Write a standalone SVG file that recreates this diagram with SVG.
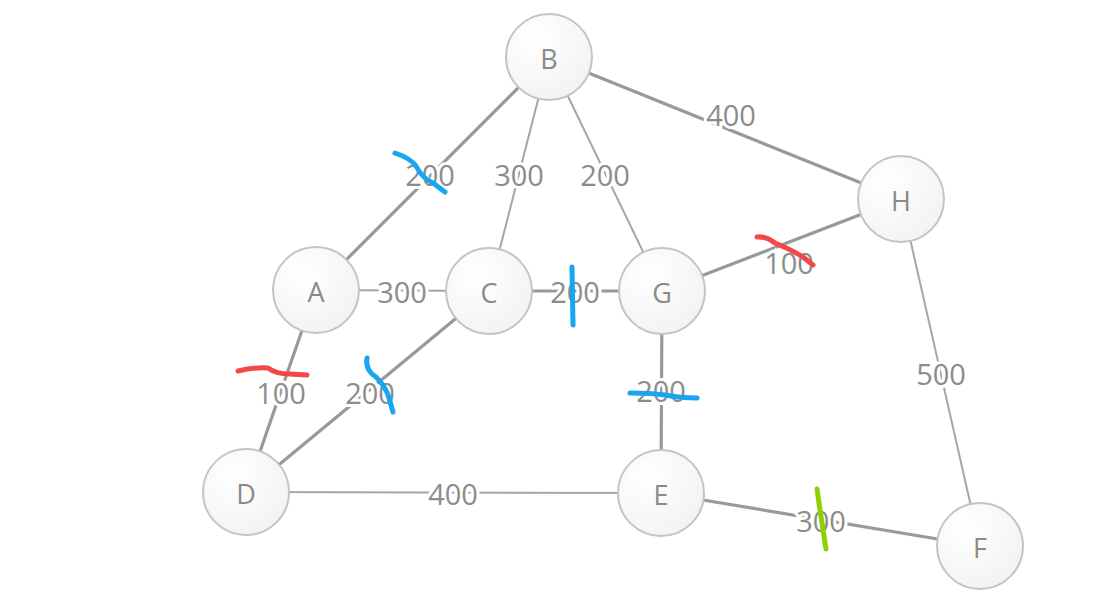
<svg xmlns="http://www.w3.org/2000/svg" width="1095" height="599" viewBox="0 0 1095 599">
<defs>
<radialGradient id="ng" cx="0.35" cy="0.3" r="0.8">
<stop offset="0" stop-color="#ffffff"/>
<stop offset="1" stop-color="#f2f2f2"/>
</radialGradient>
<style>
.thick{stroke:#999;stroke-width:3.2;fill:none}
.thin{stroke:#a6a6a6;stroke-width:2;fill:none}
.lbl{font-family:"Open Sans","Noto Sans","DejaVu Sans",sans-serif;font-size:29px;fill:#8c8c8c;text-anchor:middle;dominant-baseline:central;stroke:#fff;stroke-width:6;paint-order:stroke fill}
.node circle{fill:url(#ng);stroke:#c4c4c4;stroke-width:2}
.node text{font-family:"Open Sans","Noto Sans","DejaVu Sans",sans-serif;font-size:27px;fill:#8a8a8a;text-anchor:middle;dominant-baseline:central}
.mark{fill:none;stroke-width:5;stroke-linecap:round;stroke-linejoin:round}
</style>
</defs>
<rect width="1095" height="599" fill="#fff"/>
<g id="connectors">
<line class="thick" x1="549" y1="57" x2="316" y2="290"/>
<line class="thin" x1="549" y1="57" x2="489" y2="291"/>
<line class="thin" x1="549" y1="57" x2="662" y2="291"/>
<line class="thick" x1="549" y1="57" x2="901" y2="199"/>
<line class="thin" x1="316" y1="290" x2="489" y2="291"/>
<line class="thick" x1="489" y1="291" x2="662" y2="291"/>
<line class="thick" x1="662" y1="291" x2="901" y2="199"/>
<line class="thick" x1="316" y1="290" x2="246" y2="492"/>
<line class="thick" x1="489" y1="291" x2="246" y2="492"/>
<line class="thick" x1="662" y1="291" x2="661" y2="493"/>
<line class="thin" x1="901" y1="199" x2="980" y2="546"/>
<line class="thin" x1="246" y1="492" x2="661" y2="493"/>
<line class="thick" x1="661" y1="493" x2="980" y2="546"/>
<text class="lbl" x="430" y="174">200</text>
<text class="lbl" x="519" y="174">300</text>
<text class="lbl" x="605" y="174">200</text>
<text class="lbl" x="731" y="114">400</text>
<text class="lbl" x="402" y="291">300</text>
<text class="lbl" x="575" y="291">200</text>
<text class="lbl" x="789" y="262">100</text>
<text class="lbl" x="281" y="392">100</text>
<text class="lbl" x="370" y="392">200</text>
<text class="lbl" x="661" y="390">200</text>
<text class="lbl" x="941" y="373">500</text>
<text class="lbl" x="453" y="493">400</text>
<text class="lbl" x="821" y="520">300</text>
</g>
<g id="node-B" class="node"><circle cx="549" cy="57" r="43"/><text x="549" y="58">B</text></g>
<g id="node-H" class="node"><circle cx="901" cy="199" r="43"/><text x="901" y="200">H</text></g>
<g id="node-A" class="node"><circle cx="316" cy="290" r="43"/><text x="316" y="291">A</text></g>
<g id="node-C" class="node"><circle cx="489" cy="291" r="43"/><text x="489" y="292">C</text></g>
<g id="node-G" class="node"><circle cx="662" cy="291" r="43"/><text x="662" y="292">G</text></g>
<g id="node-D" class="node"><circle cx="246" cy="492" r="43"/><text x="246" y="493">D</text></g>
<g id="node-E" class="node"><circle cx="661" cy="493" r="43"/><text x="661" y="494">E</text></g>
<g id="node-F" class="node"><circle cx="980" cy="546" r="43"/><text x="980" y="547">F</text></g>
<g id="marks">
<path class="mark" stroke="#17a6f2" d="M395,153 Q410,158 416,166 Q422,178 433,183 L445,192"/>
<path class="mark" stroke="#f24848" d="M238,371 Q255,367 268,368 Q276,374 290,374 L307,375"/>
<path class="mark" stroke="#17a6f2" d="M367,358 Q365,370 376,377 Q386,387 389,398 L393,412"/>
<path class="mark" stroke="#17a6f2" d="M572,267 L573,325"/>
<path class="mark" stroke="#f24848" d="M757,237 Q766,236 775,243 Q792,250 803,257 L813,265"/>
<path class="mark" stroke="#17a6f2" d="M630,393 Q650,393 665,395 Q680,398 697,398"/>
<path class="mark" stroke="#8fd100" d="M817,489 L820,510 L826,549"/>
</g>
</svg>
